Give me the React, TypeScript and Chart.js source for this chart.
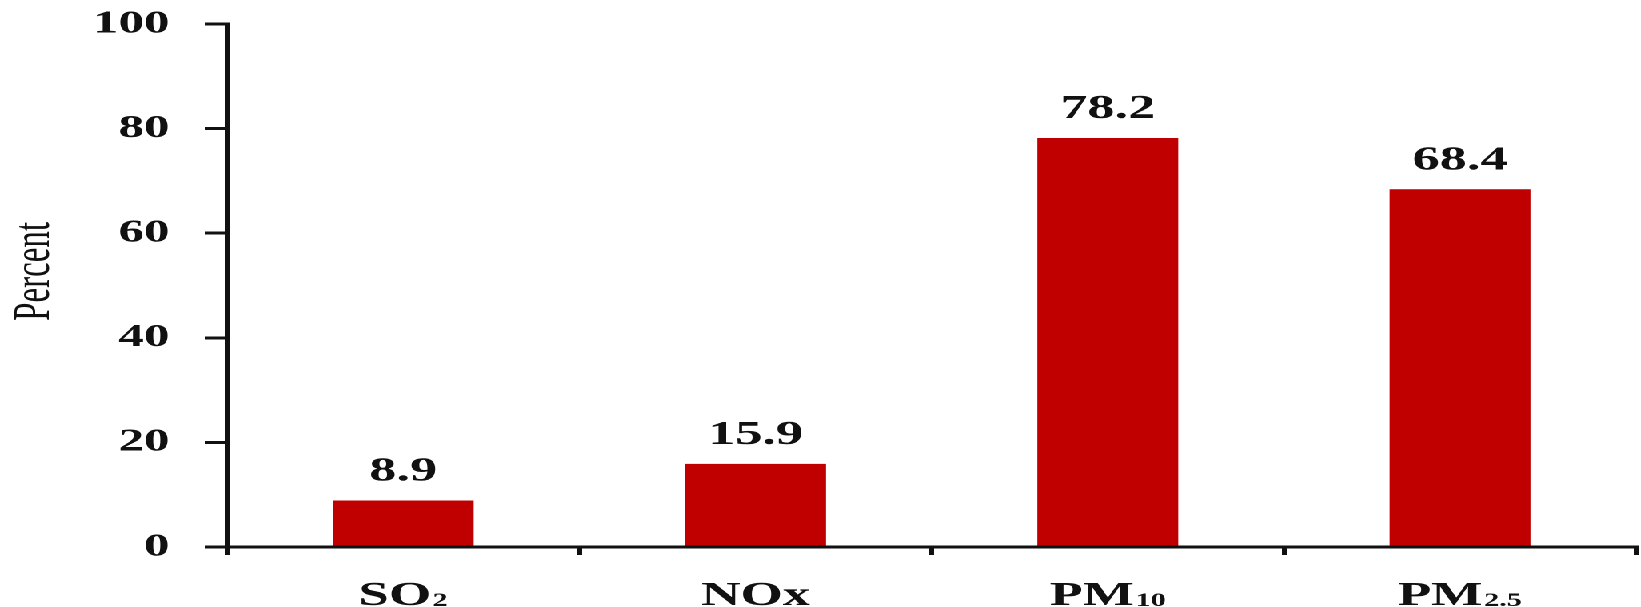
import React, { useEffect, useRef } from "react";
import { Chart, registerables } from "chart.js";

Chart.register(...registerables);

// ---- data ----
const categories = ["SO₂", "NOx", "PM₁₀", "PM₂.₅"];
const percentValues = [8.9, 15.9, 78.2, 68.4];
const valueLabels = ["8.9", "15.9", "78.2", "68.4"];
const yTitle = "Percent";
const yMin = 0;
const yMax = 100;
const yStep = 20;

// ---- look ----
const OUT_W = 1641;
const IN_W = 1026;
const H = 607;
const FONT = "'Liberation Serif', 'Times New Roman', serif";
const BAR_COLOR = "#C00000";
const INK = "#111111";

const SUB_MAP: Record<string, string> = {
  "₀": "0", "₁": "1", "₂": "2", "₃": "3", "₄": "4",
  "₅": "5", "₆": "6", "₇": "7", "₈": "8", "₉": "9",
};

// split "PM₂.₅" into [{t:"PM",sub:false},{t:"2.5",sub:true}]
function splitLabel(label: string) {
  const parts: { t: string; sub: boolean }[] = [];
  const chars = Array.from(label);
  chars.forEach((ch, i) => {
    let sub = ch in SUB_MAP;
    let t = sub ? SUB_MAP[ch] : ch;
    if (ch === "." && i > 0 && chars[i - 1] in SUB_MAP) sub = true;
    const last = parts[parts.length - 1];
    if (last && last.sub === sub) last.t += t;
    else parts.push({ t, sub });
  });
  return parts;
}

const valueLabelPlugin = {
  id: "valueLabels",
  afterDatasetsDraw(chart: any) {
    const ctx = chart.ctx;
    const meta = chart.getDatasetMeta(0);
    ctx.save();
    ctx.font = `bold 34px ${FONT}`;
    ctx.fillStyle = INK;
    ctx.textAlign = "center";
    ctx.textBaseline = "alphabetic";
    meta.data.forEach((bar: any, i: number) => {
      ctx.fillText(valueLabels[i], bar.x, bar.y - 20);
    });
    ctx.restore();
  },
};

// category labels with small subscripts
const categoryLabelPlugin = {
  id: "categoryLabels",
  afterDraw(chart: any) {
    const ctx = chart.ctx;
    const xScale = chart.scales.x;
    const baseY = chart.chartArea.bottom + 58;
    const mainFont = `bold 34px ${FONT}`;
    const subFont = `bold 19px ${FONT}`;
    ctx.save();
    ctx.fillStyle = INK;
    ctx.textAlign = "left";
    ctx.textBaseline = "alphabetic";
    categories.forEach((label, i) => {
      const parts = splitLabel(label);
      let total = 0;
      const widths = parts.map((p) => {
        ctx.font = p.sub ? subFont : mainFont;
        const w = ctx.measureText(p.t).width + (p.sub ? 1 : 0);
        total += w;
        return w;
      });
      let x = xScale.getPixelForValue(i) - total / 2;
      parts.forEach((p, k) => {
        ctx.font = p.sub ? subFont : mainFont;
        ctx.fillText(p.t, x + (p.sub ? 1 : 0), baseY + (p.sub ? 1 : 0));
        x += widths[k];
      });
    });
    ctx.restore();
  },
};

// y-axis title, drawn beside the y scale
const yTitlePlugin = {
  id: "yTitle",
  afterDraw(chart: any) {
    const ctx = chart.ctx;
    const area = chart.chartArea;
    ctx.save();
    ctx.translate(22, area.top + (area.bottom - area.top) * 0.473);
    ctx.rotate(-Math.PI / 2);
    ctx.font = `33px ${FONT}`;
    ctx.fillStyle = INK;
    ctx.textAlign = "center";
    ctx.textBaseline = "middle";
    ctx.fillText(yTitle, 0, 0);
    ctx.restore();
  },
};

export default function App() {
  const canvasRef = useRef<HTMLCanvasElement | null>(null);

  useEffect(() => {
    document.body.style.overflow = "hidden";
    const canvas = canvasRef.current;
    if (!canvas) return;
    const chart = new Chart(canvas, {
      type: "bar",
      data: {
        labels: categories,
        datasets: [
          {
            data: percentValues,
            backgroundColor: BAR_COLOR,
            borderWidth: 0,
            categoryPercentage: 1,
            barPercentage: 0.4,
          },
        ],
      },
      options: {
        animation: false,
        responsive: true,
        maintainAspectRatio: false,
        devicePixelRatio: 2,
        layout: { padding: { top: 24, right: 3, bottom: 0, left: 0 } },
        plugins: {
          legend: { display: false },
          tooltip: { enabled: false },
        },
        scales: {
          x: {
            offset: true,
            grid: {
              offset: true,
              drawOnChartArea: false,
              drawTicks: true,
              tickLength: 8,
              lineWidth: 3,
              color: INK,
            },
            border: { display: true, color: INK, width: 3 },
            ticks: { display: false },
            afterFit(scale: any) {
              scale.height = 60;
            },
          },
          y: {
            min: yMin,
            max: yMax,
            ticks: {
              stepSize: yStep,
              color: INK,
              padding: 22,
              font: { family: FONT, size: 32, weight: "bold" },
            },
            grid: {
              drawOnChartArea: false,
              drawTicks: true,
              tickLength: 14,
              lineWidth: 3,
              color: INK,
            },
            border: { display: true, color: INK, width: 3 },
            title: { display: false },
            afterFit(scale: any) {
              scale.width = 142;
              scale.paddingTop = 0;
              scale.paddingBottom = 0;
            },
          },
        },
      },
      plugins: [valueLabelPlugin, categoryLabelPlugin, yTitlePlugin],
    });
    return () => chart.destroy();
  }, []);

  return (
    <div
      style={{
        position: "absolute",
        left: 0,
        top: 0,
        width: IN_W + "px",
        height: H + "px",
        transform: `scaleX(${OUT_W / IN_W})`,
        transformOrigin: "0 0",
        background: "#ffffff",
      }}
    >
      <div style={{ position: "relative", width: "100%", height: "100%" }}>
        <canvas ref={canvasRef} />
      </div>
    </div>
  );
}
